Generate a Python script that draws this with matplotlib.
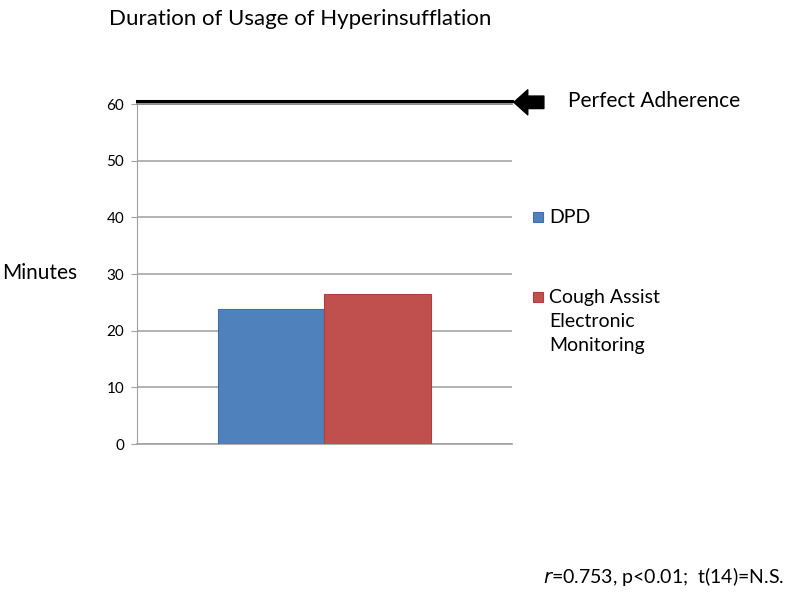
import matplotlib.pyplot as plt
from matplotlib.patches import Rectangle

series = ["DPD", "Cough Assist\nElectronic\nMonitoring"]
minutes = [23.8, 26.5]
colors = ["#4f81bd", "#c0504d"]
edges = ["#3f6fa8", "#b03f3c"]
yticks = [0, 10, 20, 30, 40, 50, 60]
perfect = 60

plt.rcParams['font.family'] = ['Lato', 'DejaVu Sans']

fig = plt.figure(figsize=(8, 5.92), dpi=100)
ax = fig.add_axes([0.171, 0.25, 0.469, 0.5743])

width = 0.283
offsets = [-width / 2, width / 2]
for off, val, c, e in zip(offsets, minutes, colors, edges):
    ax.bar(off, val, width=width, color=c, edgecolor=e, linewidth=0.8, zorder=3)

ax.set_xlim(-0.5, 0.5)
ax.set_ylim(0, 60)
ax.set_yticks(yticks)
ax.set_xticks([])
ax.tick_params(axis='y', length=4, color='#a0a0a0', labelsize=11, pad=5)
ax.yaxis.grid(True, color='#a6a6a6', linewidth=1.2, zorder=0)
for s in ['top', 'right']:
    ax.spines[s].set_visible(False)
ax.spines['left'].set_color('#a0a0a0')
ax.spines['bottom'].set_color('#a0a0a0')
ax.spines['bottom'].set_linewidth(1.2)

# perfect adherence: black line over a grey line at 60, arrow at the right
ax.axhline(perfect, color='#8c8c8c', linewidth=1.3, zorder=3, clip_on=False)
ax.axhline(perfect + 0.55, color='black', linewidth=2.2, zorder=4, clip_on=False)
ax.annotate('', xy=(1.005, perfect + 0.3), xytext=(1.085, perfect + 0.3),
            xycoords=('axes fraction', 'data'), textcoords=('axes fraction', 'data'),
            arrowprops=dict(arrowstyle='simple,head_length=1.0,head_width=1.8,tail_width=0.9',
                            color='black', shrinkA=0, shrinkB=0), annotation_clip=False)
fig.text(0.71, 1 - 101 / 592, "Perfect Adherence", fontsize=15, va='center', ha='left')

fig.text(0.375, 1 - 19 / 592, "Duration of Usage of Hyperinsufflation", fontsize=16,
         ha='center', va='center')
fig.text(0.003, 1 - 273 / 592, "Minutes", fontsize=15, va='center', ha='left')

# legend, marker lined up with the first text line as in Excel
legend_rows = [217, 297]  # pixel rows of the first line of each entry
for label, c, e, row in zip(series, colors, edges, legend_rows):
    fig.patches.append(Rectangle((533 / 800, 1 - (row + 5) / 592), 10 / 800, 10 / 592,
                                 facecolor=c, edgecolor=e, linewidth=0.8,
                                 transform=fig.transFigure, figure=fig))
    fig.text(549 / 800, 1 - (row - 8) / 592, label, fontsize=14, va='top', ha='left',
             linespacing=1.5)

fig.text(0.679, 1 - 577 / 592, r"$\it{r}$=0.753, p<0.01;  t(14)=N.S.", fontsize=14,
         va='center', ha='left')

fig.savefig("out.png", dpi=100)
